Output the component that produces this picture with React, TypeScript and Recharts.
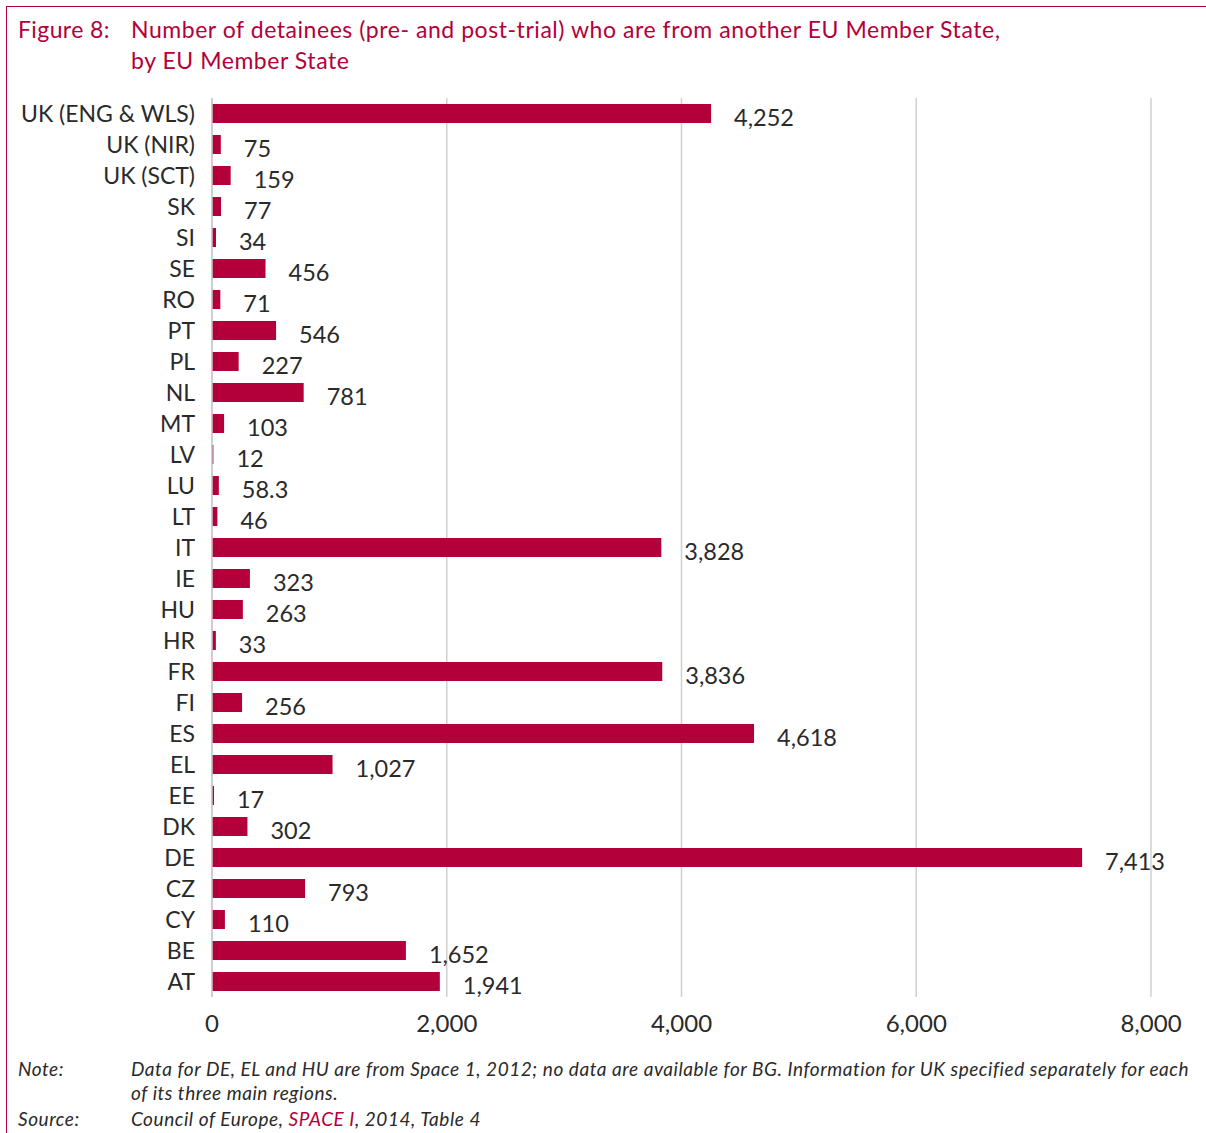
import React from 'react';
import { BarChart, Bar, XAxis, YAxis, CartesianGrid, LabelList } from 'recharts';

const categories = ['UK (ENG & WLS)', 'UK (NIR)', 'UK (SCT)', 'SK', 'SI', 'SE', 'RO', 'PT', 'PL', 'NL', 'MT', 'LV', 'LU', 'LT', 'IT', 'IE', 'HU', 'HR', 'FR', 'FI', 'ES', 'EL', 'EE', 'DK', 'DE', 'CZ', 'CY', 'BE', 'AT'];
const values = [4252, 75, 159, 77, 34, 456, 71, 546, 227, 781, 103, 12, 58.3, 46, 3828, 323, 263, 33, 3836, 256, 4618, 1027, 17, 302, 7413, 793, 110, 1652, 1941];
const xTicks = [0, 2000, 4000, 6000, 8000];

const data = categories.map((c, i) => ({ name: c, value: values[i] }));

const RED = '#b3003a';
const TEXT = '#2a2a2a';
const FONT = 'Lato, "Open Sans", sans-serif';

const fmt = (v: number) => v.toLocaleString('en-US');

const renderLabel = (props: any) => {
  const { x, y, width, height, value } = props;
  return (
    <text x={Number(x) + Number(width) + 23} y={Number(y) + Number(height) / 2 + 3} dominantBaseline="central"
      fontSize={23.5} fill={TEXT} fontFamily={FONT}>
      {fmt(Number(value))}
    </text>
  );
};

export default function App() {
  return (
    <div style={{ position: 'absolute', left: 0, top: 0, width: 1206, height: 1133, background: '#fff', overflow: 'hidden', fontFamily: FONT }}>
      <div style={{ position: 'absolute', left: 6, top: 6, width: 1200, height: 1, background: RED }} />
      <div style={{ position: 'absolute', left: 6, top: 6, width: 1, height: 1127, background: RED }} />
      <div style={{ position: 'absolute', left: 18, top: 14, fontSize: 23, color: RED, lineHeight: '31px', letterSpacing: 0.4 }}>Figure 8:</div>
      <div style={{ position: 'absolute', left: 131, top: 14, fontSize: 23, color: RED, lineHeight: '31px', letterSpacing: 0.55, whiteSpace: 'nowrap' }}>
        Number of detainees (pre- and post-trial) who are from another EU Member State,<br />by EU Member State
      </div>
      <div style={{ position: 'absolute', left: 0, top: 0 }}>
        <BarChart width={1206} height={1047} data={data} layout="vertical" margin={{ top: 98, right: 55, left: 0, bottom: 0 }} barSize={19}>
          <CartesianGrid horizontal={false} stroke="#d0d0d0" strokeWidth={1.5} />
          <XAxis type="number" domain={[0, 8000]} ticks={xTicks} tickFormatter={fmt} axisLine={false} tickLine={false}
            tickMargin={12} height={50} tick={{ fontSize: 24, fill: TEXT, fontFamily: FONT }} interval={0} />
          <YAxis type="category" dataKey="name" width={212} axisLine={{ stroke: '#c8c8c8', strokeWidth: 1.5 }} tickLine={false}
            tickSize={0} tickMargin={17} interval={0} tick={{ fontSize: 23, fill: TEXT, fontFamily: FONT }} />
          <Bar dataKey="value" fill={RED} isAnimationActive={false}>
            <LabelList dataKey="value" content={renderLabel} />
          </Bar>
        </BarChart>
      </div>
      <div style={{ position: 'absolute', left: 18, top: 1057, fontSize: 19, fontStyle: 'italic', color: TEXT, lineHeight: '24px', letterSpacing: 0.55 }}>Note:</div>
      <div style={{ position: 'absolute', left: 131, top: 1057, width: 1075, fontSize: 19, fontStyle: 'italic', color: TEXT, lineHeight: '24px', letterSpacing: 0.55, whiteSpace: 'nowrap' }}>
        Data for DE, EL and HU are from Space 1, 2012; no data are available for BG. Information for UK specified separately for each<br />of its three main regions.
      </div>
      <div style={{ position: 'absolute', left: 18, top: 1108, fontSize: 19, fontStyle: 'italic', color: TEXT, lineHeight: '22px', letterSpacing: 0.55 }}>Source:</div>
      <div style={{ position: 'absolute', left: 131, top: 1108, fontSize: 19, fontStyle: 'italic', color: TEXT, lineHeight: '22px', letterSpacing: 0.55 }}>
        Council of Europe, <span style={{ color: RED }}>SPACE I</span>, 2014, Table 4
      </div>
    </div>
  );
}
